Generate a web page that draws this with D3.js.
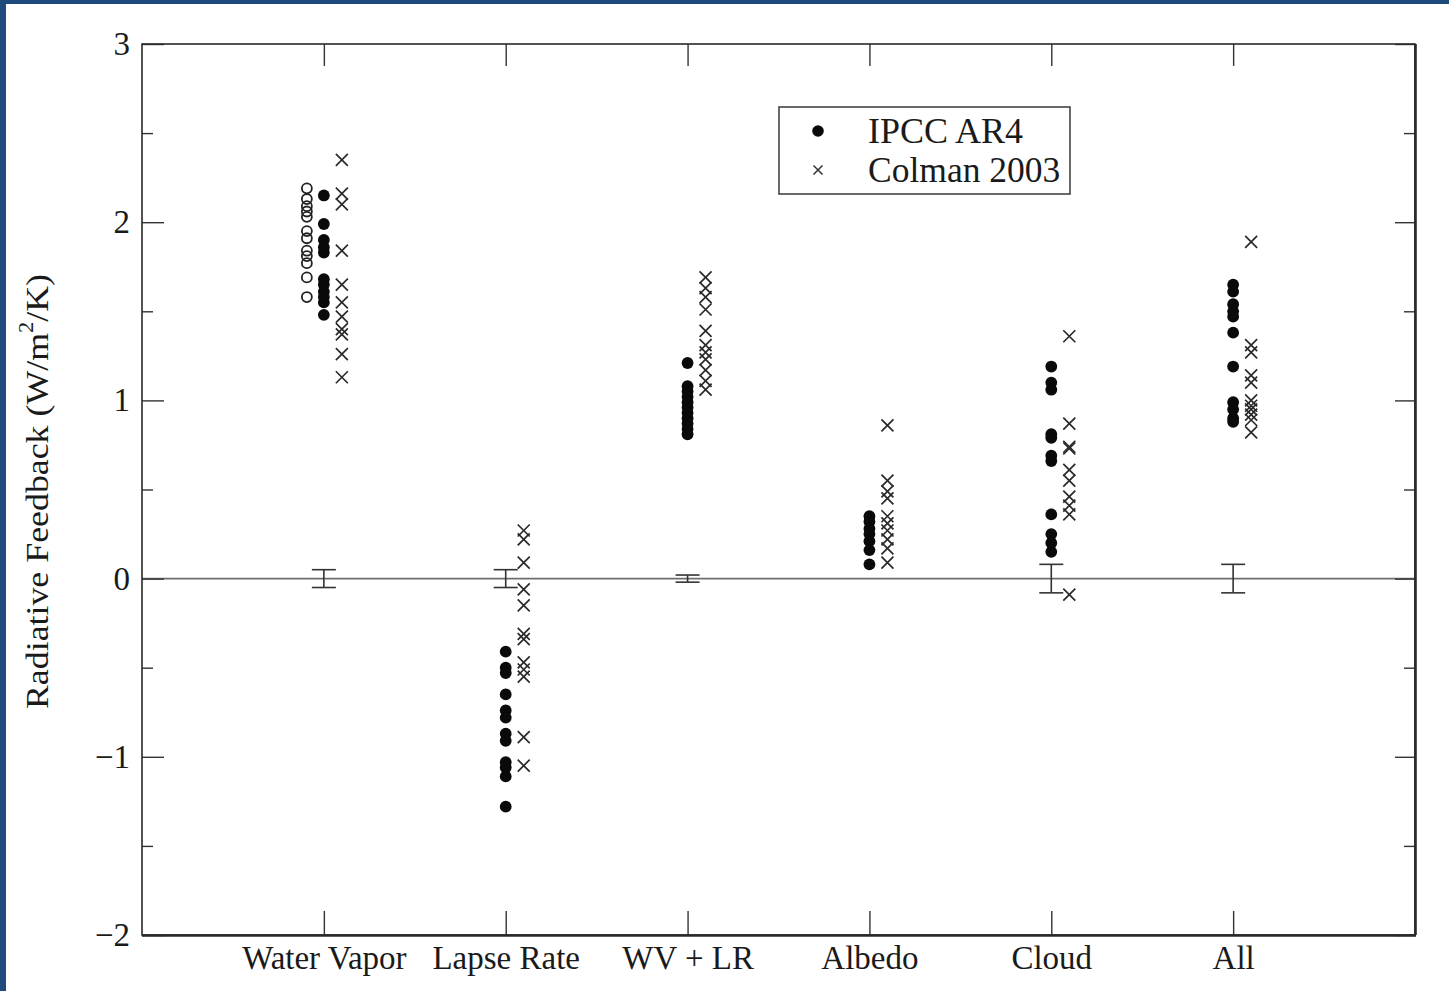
<!DOCTYPE html>
<html>
<head>
<meta charset="utf-8">
<script src="https://cdn.jsdelivr.net/npm/d3@7"></script>
<style>
  html, body { margin: 0; padding: 0; background: #1f4a7c; }
  svg { display: block; }
</style>
</head>
<body>
<svg id="chart" width="1449" height="991"></svg>
<script>
// ---------------- DATA ----------------
const categories = ["Water Vapor", "Lapse Rate", "WV + LR", "Albedo", "Cloud", "All"];

// IPCC AR4 models (filled circles), one list per category
const ipccWaterVapor = [2.15, 1.99, 1.90, 1.86, 1.83, 1.68, 1.65, 1.61, 1.58, 1.55, 1.48];
const ipccLapseRate  = [-0.41, -0.50, -0.53, -0.65, -0.74, -0.78, -0.87, -0.91, -1.03, -1.06, -1.11, -1.28];
const ipccWvLr       = [1.21, 1.08, 1.05, 1.02, 0.99, 0.96, 0.93, 0.90, 0.87, 0.84, 0.81];
const ipccAlbedo     = [0.35, 0.32, 0.28, 0.25, 0.21, 0.16, 0.08];
const ipccCloud      = [1.19, 1.10, 1.06, 0.81, 0.79, 0.69, 0.66, 0.36, 0.25, 0.20, 0.15];
const ipccAll        = [1.65, 1.61, 1.54, 1.50, 1.47, 1.38, 1.19, 0.99, 0.95, 0.90, 0.88];

// Additional water-vapour estimates (open circles)
const ipccWaterVaporAlt = [2.19, 2.13, 2.09, 2.06, 2.03, 1.95, 1.91, 1.84, 1.81, 1.77, 1.69, 1.58];

// Colman 2003 (crosses)
const colmanWaterVapor = [2.35, 2.16, 2.10, 1.84, 1.65, 1.55, 1.47, 1.40, 1.37, 1.26, 1.13];
const colmanLapseRate  = [0.27, 0.22, 0.09, -0.06, -0.15, -0.31, -0.34, -0.47, -0.51, -0.55, -0.89, -1.05];
const colmanWvLr       = [1.69, 1.63, 1.58, 1.51, 1.39, 1.31, 1.27, 1.23, 1.17, 1.11, 1.06];
const colmanAlbedo     = [0.86, 0.55, 0.49, 0.45, 0.35, 0.31, 0.27, 0.22, 0.17, 0.09];
const colmanCloud      = [1.36, 0.87, 0.74, 0.73, 0.61, 0.55, 0.46, 0.41, 0.36, -0.09];
const colmanAll        = [1.89, 1.31, 1.27, 1.14, 1.10, 1.00, 0.97, 0.95, 0.92, 0.89, 0.82];

// Error bar half-widths at zero (per category)
const errorHalf = [0.05, 0.05, 0.02, 0.0, 0.08, 0.08];

// Axis ticks
const yMajorTicks = [-2, -1, 0, 1, 2, 3];
const yMinorTicks = [-1.5, -0.5, 0.5, 1.5, 2.5];

const ipccSeries   = [ipccWaterVapor, ipccLapseRate, ipccWvLr, ipccAlbedo, ipccCloud, ipccAll];
const colmanSeries = [colmanWaterVapor, colmanLapseRate, colmanWvLr, colmanAlbedo, colmanCloud, colmanAll];

// ---------------- LAYOUT ----------------
const W = 1449, H = 991;
const L = 142, R = 1415, T = 44, B = 935;
const font = "'Liberation Serif', 'Times New Roman', serif";
const ink = "#1a1a1a";

const svg = d3.select("#chart");
svg.append("rect").attr("x", 6).attr("y", 4).attr("width", W - 6).attr("height", H - 4).attr("fill", "#fff");

const x = d3.scaleLinear().domain([0, categories.length + 1]).range([L, R]);
const y = d3.scaleLinear().domain([-2, 3]).range([B, T]);
const catPos = (i) => x(i + 1);

// zero line
svg.append("line")
  .attr("x1", L).attr("x2", R).attr("y1", y(0)).attr("y2", y(0))
  .attr("stroke", "#6e6e6e").attr("stroke-width", 1.6);

// ---------------- AXES ----------------
function styleAxis(size) {
  return (g) => {
    g.select(".domain").remove();
    g.selectAll(".tick line").attr("stroke", "#333").attr("stroke-width", 1.4);
    g.selectAll(".tick text").attr("font-family", font).attr("font-size", size).attr("fill", ink);
  };
}

// left major
svg.append("g").attr("transform", `translate(${L},0)`)
  .call(d3.axisLeft(y).tickValues(yMajorTicks).tickSize(-22).tickPadding(12).tickFormat(d3.format("d")))
  .call(styleAxis(33));
// left minor
svg.append("g").attr("transform", `translate(${L},0)`)
  .call(d3.axisLeft(y).tickValues(yMinorTicks).tickSize(-11).tickFormat(""))
  .call(styleAxis(33));
// right major / minor
svg.append("g").attr("transform", `translate(${R},0)`)
  .call(d3.axisRight(y).tickValues(yMajorTicks).tickSize(-20).tickFormat(""))
  .call(styleAxis(33));
svg.append("g").attr("transform", `translate(${R},0)`)
  .call(d3.axisRight(y).tickValues(yMinorTicks).tickSize(-11).tickFormat(""))
  .call(styleAxis(33));

const xTickVals = categories.map((c, i) => i + 1);
// bottom
svg.append("g").attr("transform", `translate(0,${B})`)
  .call(d3.axisBottom(x).tickValues(xTickVals).tickSize(-24).tickPadding(11)
    .tickFormat((d) => categories[d - 1]))
  .call(styleAxis(33));
// top
svg.append("g").attr("transform", `translate(0,${T})`)
  .call(d3.axisTop(x).tickValues(xTickVals).tickSize(-22).tickFormat(""))
  .call(styleAxis(33));

// frame
svg.append("rect").attr("x", L).attr("y", T).attr("width", R - L).attr("height", B - T)
  .attr("fill", "none").attr("stroke", "#2a2a2a").attr("stroke-width", 1.6);
svg.append("line").attr("x1", L).attr("x2", R + 1).attr("y1", B + 0.5).attr("y2", B + 0.5)
  .attr("stroke", "#2a2a2a").attr("stroke-width", 2.6);
svg.append("line").attr("x1", R + 0.5).attr("x2", R + 0.5).attr("y1", T).attr("y2", B)
  .attr("stroke", "#2a2a2a").attr("stroke-width", 2.6);

// y-axis title
const yt = svg.append("text")
  .attr("transform", `translate(48,${(T + B) / 2 + 2}) rotate(-90) scale(1.12,1)`)
  .attr("text-anchor", "middle")
  .attr("font-family", font).attr("font-size", 32).attr("fill", ink);
yt.append("tspan").text("Radiative Feedback (W/m");
yt.append("tspan").attr("font-size", 20).attr("dy", -15).text("2");
yt.append("tspan").attr("dy", 15).text("/K)");

// ---------------- ERROR BARS ----------------
const eb = svg.append("g").attr("stroke", "#333").attr("stroke-width", 1.6);
errorHalf.forEach((e, i) => {
  if (e <= 0) return;
  const cx = catPos(i);
  eb.append("line").attr("x1", cx).attr("x2", cx).attr("y1", y(e)).attr("y2", y(-e));
  [e, -e].forEach((v) => {
    eb.append("line").attr("x1", cx - 12).attr("x2", cx + 12).attr("y1", y(v)).attr("y2", y(v));
  });
});

// ---------------- MARKS ----------------
const crossPath = (s) => `M${-s},${-s}L${s},${s}M${-s},${s}L${s},${-s}`;

// open circles (water vapour only)
svg.append("g").selectAll("circle").data(ipccWaterVaporAlt).join("circle")
  .attr("cx", catPos(0) - 17).attr("cy", (d) => y(d)).attr("r", 5)
  .attr("fill", "none").attr("stroke", "#222").attr("stroke-width", 1.8);

// filled circles
ipccSeries.forEach((vals, i) => {
  svg.append("g").selectAll("circle").data(vals).join("circle")
    .attr("cx", catPos(i)).attr("cy", (d) => y(d)).attr("r", 5.9)
    .attr("fill", "#0a0a0a");
});

// crosses
colmanSeries.forEach((vals, i) => {
  svg.append("g").selectAll("path").data(vals).join("path")
    .attr("transform", (d) => `translate(${catPos(i) + 18},${y(d)})`)
    .attr("d", crossPath(6))
    .attr("fill", "none").attr("stroke", "#2a2a2a").attr("stroke-width", 1.7);
});

// ---------------- LEGEND ----------------
const lg = svg.append("g");
lg.append("rect").attr("x", 779).attr("y", 107).attr("width", 291).attr("height", 87)
  .attr("fill", "#fff").attr("stroke", "#444").attr("stroke-width", 1.6);
lg.append("circle").attr("cx", 818).attr("cy", 131).attr("r", 5.8).attr("fill", "#0a0a0a");
lg.append("path").attr("transform", "translate(818,170)").attr("d", crossPath(4.5))
  .attr("fill", "none").attr("stroke", "#333").attr("stroke-width", 1.5);
lg.append("text").attr("x", 868).attr("y", 143).text("IPCC AR4")
  .attr("font-family", font).attr("font-size", 36).attr("fill", ink);
lg.append("text").attr("x", 868).attr("y", 182).text("Colman 2003")
  .attr("font-family", font).attr("font-size", 35.5).attr("fill", ink);
</script>
</body>
</html>
